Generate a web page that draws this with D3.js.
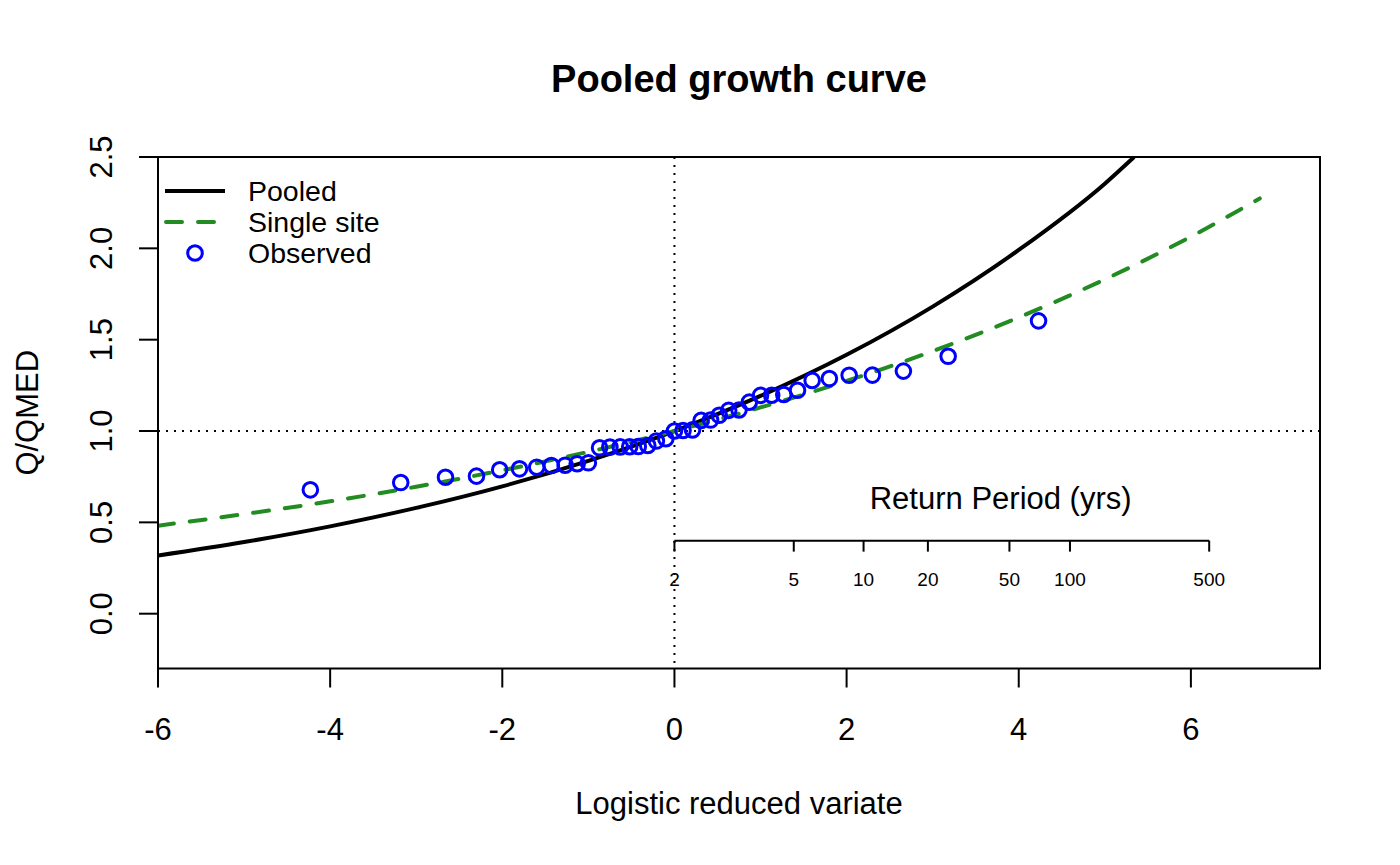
<!DOCTYPE html>
<html>
<head>
<meta charset="utf-8">
<script src="https://cdn.jsdelivr.net/npm/d3@7"></script>
<style>
  html, body { margin: 0; padding: 0; background: #fff; }
  svg { display: block; font-family: "Liberation Sans", Arial, Helvetica, sans-serif; }
</style>
</head>
<body>
<svg id="chart" width="1400" height="865"></svg>
<script>
// ---- data ----
const xTicks = [-6, -4, -2, 0, 2, 4, 6];
const yTicks = [0, 0.5, 1, 1.5, 2, 2.5];
const yTickLabels = ["0.0", "0.5", "1.0", "1.5", "2.0", "2.5"];

// Pooled growth curve (black, solid)
const pooledX = [-6, -5, -4, -3, -2, -1, 0, 1, 2, 3, 4, 5, 5.34];
const pooledQ = [0.318, 0.392, 0.478, 0.579, 0.697, 0.837, 1.0, 1.192, 1.417, 1.681, 1.991, 2.354, 2.5];

// Single site growth curve (green, dashed)
const singleX = [-6, -5, -4, -3, -2, -1, 0, 1, 2, 3, 4, 5, 6, 6.8];
const singleQ = [0.482, 0.545, 0.615, 0.695, 0.785, 0.886, 1.0, 1.129, 1.274, 1.437, 1.622, 1.830, 2.064, 2.273];

// Observed (blue circles): logistic reduced variate, Q/QMED
const obsX = [-4.23, -3.18, -2.66, -2.30, -2.03, -1.80, -1.60, -1.43, -1.27, -1.13,
              -1.00, -0.87, -0.75, -0.63, -0.52, -0.42, -0.31, -0.21, -0.10, 0.00,
               0.10, 0.21, 0.31, 0.42, 0.52, 0.63, 0.75, 0.87, 1.00, 1.13,
               1.27, 1.43, 1.60, 1.80, 2.03, 2.30, 2.66, 3.18, 4.23];
const obsQ = [0.678, 0.718, 0.747, 0.753, 0.788, 0.793, 0.802, 0.811, 0.813, 0.821,
              0.826, 0.908, 0.912, 0.913, 0.914, 0.915, 0.921, 0.945, 0.958, 1.000,
              1.003, 1.006, 1.058, 1.060, 1.086, 1.113, 1.115, 1.158, 1.195, 1.196,
              1.200, 1.223, 1.277, 1.287, 1.305, 1.306, 1.328, 1.409, 1.603];

// Return period axis
const returnPeriods = [2, 5, 10, 20, 50, 100, 500];
const returnAxisQ = 0.40;        // level at which the return-period axis sits
const returnTitleX = 3.79;       // x-position of its title (reduced variate)

const legendLabels = ["Pooled", "Single site", "Observed"];

// ---- layout ----
const L = 158, R = 1320, T = 157, B = 668.5;
const svg = d3.select("#chart");

const x = d3.scaleLinear().domain([-6, 7.5]).range([L, R]);
const y = d3.scaleLinear().domain([-0.3, 2.5]).range([B, T]);
const rpX = tt => x(Math.log(tt - 1));

svg.append("defs").append("clipPath").attr("id", "clip")
  .append("rect").attr("x", L).attr("y", T).attr("width", R - L).attr("height", B - T);

const plot = svg.append("g").attr("clip-path", "url(#clip)");

// reference dotted lines
plot.append("line")
  .attr("x1", x(0)).attr("x2", x(0)).attr("y1", T).attr("y2", B)
  .attr("stroke", "#000").attr("stroke-width", 2).attr("stroke-dasharray", "2,6");
plot.append("line")
  .attr("x1", L).attr("x2", R).attr("y1", y(1)).attr("y2", y(1))
  .attr("stroke", "#000").attr("stroke-width", 2).attr("stroke-dasharray", "2,6");

const line = d3.line().x(d => x(d[0])).y(d => y(d[1])).curve(d3.curveMonotoneX);

plot.append("path")
  .datum(pooledX.map((v, i) => [v, pooledQ[i]]))
  .attr("d", line).attr("fill", "none").attr("stroke", "#000").attr("stroke-width", 4);

plot.append("path")
  .datum(singleX.map((v, i) => [v, singleQ[i]]))
  .attr("d", line).attr("fill", "none").attr("stroke", "#228B22").attr("stroke-width", 4)
  .attr("stroke-dasharray", "16,16").attr("stroke-linecap", "round");

plot.selectAll("circle.obs")
  .data(obsX.map((v, i) => [v, obsQ[i]]))
  .enter().append("circle").attr("class", "obs")
  .attr("cx", d => x(d[0])).attr("cy", d => y(d[1])).attr("r", 7.3)
  .attr("fill", "none").attr("stroke", "#0000FF").attr("stroke-width", 3);

// return period axis
const ry = y(returnAxisQ);
const rpG = svg.append("g");
rpG.append("line")
  .attr("x1", rpX(returnPeriods[0])).attr("x2", rpX(returnPeriods[returnPeriods.length - 1]))
  .attr("y1", ry).attr("y2", ry).attr("stroke", "#000").attr("stroke-width", 2);
rpG.selectAll("line.rt").data(returnPeriods).enter().append("line").attr("class", "rt")
  .attr("x1", d => rpX(d)).attr("x2", d => rpX(d)).attr("y1", ry).attr("y2", ry + 11)
  .attr("stroke", "#000").attr("stroke-width", 2);
rpG.selectAll("text.rl").data(returnPeriods).enter().append("text").attr("class", "rl")
  .attr("x", d => rpX(d)).attr("y", ry + 45).attr("text-anchor", "middle")
  .attr("font-size", 19).text(d => d);
rpG.append("text").attr("x", x(returnTitleX)).attr("y", ry - 32)
  .attr("text-anchor", "middle").attr("font-size", 31).text("Return Period (yrs)");

// box
svg.append("rect").attr("x", L).attr("y", T).attr("width", R - L).attr("height", B - T)
  .attr("fill", "none").attr("stroke", "#000").attr("stroke-width", 2);

// x axis
const xg = svg.append("g");
xg.selectAll("line").data(xTicks).enter().append("line")
  .attr("x1", d => x(d)).attr("x2", d => x(d)).attr("y1", B).attr("y2", B + 19)
  .attr("stroke", "#000").attr("stroke-width", 2);
xg.selectAll("text").data(xTicks).enter().append("text")
  .attr("x", d => x(d)).attr("y", 740).attr("text-anchor", "middle")
  .attr("font-size", 31).text(d => d);

// y axis
const yg = svg.append("g");
yg.selectAll("line").data(yTicks).enter().append("line")
  .attr("x1", L - 19).attr("x2", L).attr("y1", d => y(d)).attr("y2", d => y(d))
  .attr("stroke", "#000").attr("stroke-width", 2);
yg.selectAll("text").data(yTicks).enter().append("text")
  .attr("transform", d => `translate(112,${y(d)}) rotate(-90)`)
  .attr("text-anchor", "middle").attr("font-size", 31).text((d, i) => yTickLabels[i]);

// titles
svg.append("text").attr("x", (L + R) / 2).attr("y", 92).attr("text-anchor", "middle")
  .attr("font-size", 38).attr("font-weight", "bold").text("Pooled growth curve");
svg.append("text").attr("x", (L + R) / 2).attr("y", 814).attr("text-anchor", "middle")
  .attr("font-size", 31).text("Logistic reduced variate");
svg.append("text").attr("transform", `translate(38,${(T + B) / 2}) rotate(-90)`)
  .attr("text-anchor", "middle").attr("font-size", 31).text("Q/QMED");

// legend
const lg = svg.append("g");
const legY = [191, 222, 253];
lg.append("line").attr("x1", 165).attr("x2", 225).attr("y1", legY[0]).attr("y2", legY[0])
  .attr("stroke", "#000").attr("stroke-width", 4);
lg.append("line").attr("x1", 166).attr("x2", 226).attr("y1", legY[1]).attr("y2", legY[1])
  .attr("stroke", "#228B22").attr("stroke-width", 4).attr("stroke-dasharray", "16,16")
  .attr("stroke-linecap", "round");
lg.append("circle").attr("cx", 195).attr("cy", legY[2]).attr("r", 7.3)
  .attr("fill", "none").attr("stroke", "#0000FF").attr("stroke-width", 3);
lg.selectAll("text").data(legendLabels).enter().append("text")
  .attr("x", 248).attr("y", (d, i) => legY[i] + 10).attr("font-size", 28.5).text(d => d);
</script>
</body>
</html>
